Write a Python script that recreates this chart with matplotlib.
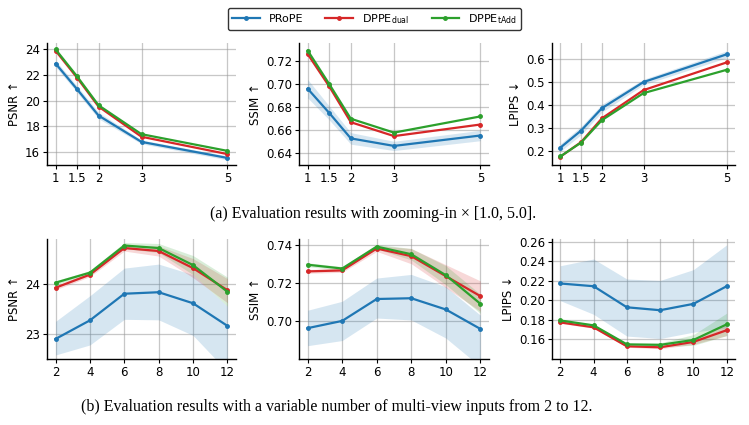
import numpy as np
import matplotlib
matplotlib.use("Agg")
import matplotlib.pyplot as plt

# ---------------- data ----------------
zoom_x = [1, 1.5, 2, 3, 5]
zoom_ticklabels = ["1", "1.5", "2", "3", "5"]
views_x = [2, 4, 6, 8, 10, 12]

series_names = ["PRoPE", "DPPE$_{\\mathrm{dual}}$", "DPPE$_{\\mathrm{tAdd}}$"]
colors = ["#1f77b4", "#d62728", "#2ca02c"]

# (a) zooming-in
psnr_zoom_prope = [22.9, 20.9, 18.85, 16.8, 15.55]
psnr_zoom_dual = [23.9, 21.8, 19.55, 17.2, 15.85]
psnr_zoom_tadd = [24.0, 21.9, 19.65, 17.4, 16.1]
psnr_zoom_prope_lo = [22.65, 20.65, 18.6, 16.65, 15.4]
psnr_zoom_prope_hi = [23.15, 21.15, 19.1, 16.95, 15.7]

ssim_zoom_prope = [0.696, 0.675, 0.653, 0.6465, 0.6555]
ssim_zoom_dual = [0.726, 0.698, 0.667, 0.655, 0.665]
ssim_zoom_tadd = [0.729, 0.700, 0.670, 0.658, 0.672]
ssim_zoom_prope_lo = [0.688, 0.669, 0.648, 0.6425, 0.651]
ssim_zoom_prope_hi = [0.704, 0.681, 0.658, 0.6505, 0.660]

lpips_zoom_prope = [0.216, 0.290, 0.387, 0.500, 0.620]
lpips_zoom_dual = [0.177, 0.240, 0.343, 0.465, 0.585]
lpips_zoom_tadd = [0.178, 0.238, 0.335, 0.452, 0.553]
lpips_zoom_prope_lo = [0.200, 0.272, 0.370, 0.488, 0.605]
lpips_zoom_prope_hi = [0.232, 0.308, 0.404, 0.512, 0.635]

# (b) number of views
psnr_views_prope = [22.90, 23.27, 23.80, 23.83, 23.61, 23.16]
psnr_views_dual = [23.92, 24.18, 24.71, 24.65, 24.31, 23.87]
psnr_views_tadd = [24.02, 24.22, 24.76, 24.71, 24.37, 23.84]
psnr_views_prope_lo = [22.58, 22.78, 23.29, 23.28, 22.97, 22.25]
psnr_views_prope_hi = [23.25, 23.76, 24.31, 24.39, 24.18, 23.55]
psnr_views_dual_lo = [23.88, 24.14, 24.65, 24.55, 24.12, 23.62]
psnr_views_dual_hi = [23.96, 24.22, 24.77, 24.75, 24.50, 24.10]
psnr_views_tadd_lo = [23.98, 24.18, 24.70, 24.62, 24.18, 23.55]
psnr_views_tadd_hi = [24.06, 24.26, 24.82, 24.80, 24.56, 24.13]

ssim_views_prope = [0.6962, 0.7000, 0.7115, 0.7119, 0.7060, 0.6958]
ssim_views_dual = [0.7260, 0.7265, 0.7380, 0.7340, 0.7235, 0.7130]
ssim_views_tadd = [0.7295, 0.7275, 0.7390, 0.7350, 0.7240, 0.7090]
ssim_views_prope_lo = [0.6870, 0.6897, 0.7015, 0.7005, 0.6910, 0.6760]
ssim_views_prope_hi = [0.7056, 0.7103, 0.7225, 0.7244, 0.7179, 0.7030]
ssim_views_dual_lo = [0.7250, 0.7255, 0.7365, 0.7300, 0.7175, 0.7050]
ssim_views_dual_hi = [0.7270, 0.7275, 0.7395, 0.7380, 0.7295, 0.7210]
ssim_views_tadd_lo = [0.7285, 0.7265, 0.7378, 0.7320, 0.7190, 0.7040]
ssim_views_tadd_hi = [0.7305, 0.7285, 0.7402, 0.7380, 0.7290, 0.7140]

lpips_views_prope = [0.2174, 0.2146, 0.1930, 0.1900, 0.1965, 0.2146]
lpips_views_dual = [0.1775, 0.1725, 0.1530, 0.1520, 0.1575, 0.1695]
lpips_views_tadd = [0.1795, 0.1745, 0.1550, 0.1545, 0.1595, 0.1755]
lpips_views_prope_lo = [0.1998, 0.1858, 0.1635, 0.1610, 0.1675, 0.1720]
lpips_views_prope_hi = [0.2356, 0.2425, 0.2220, 0.2205, 0.2316, 0.2570]
lpips_views_dual_lo = [0.1765, 0.1715, 0.1520, 0.1505, 0.1550, 0.1640]
lpips_views_dual_hi = [0.1785, 0.1735, 0.1540, 0.1535, 0.1600, 0.1750]
lpips_views_tadd_lo = [0.1785, 0.1735, 0.1540, 0.1525, 0.1540, 0.1640]
lpips_views_tadd_hi = [0.1805, 0.1755, 0.1560, 0.1565, 0.1650, 0.1870]

# ---------------- figure ----------------
W, H = 749, 425
fig = plt.figure(figsize=(W / 100, H / 100), dpi=100)

def px_axes(left, right, top, bottom):
    return fig.add_axes([left / W, 1 - bottom / H, (right - left) / W, (bottom - top) / H])

def style(ax):
    ax.spines["top"].set_visible(False)
    ax.spines["right"].set_visible(False)
    ax.grid(True, color="#999999", alpha=0.55, linewidth=0.9)
    ax.set_axisbelow(True)
    ax.tick_params(labelsize=8.5, length=3, width=0.8, pad=2)
    for s in ("left", "bottom"):
        ax.spines[s].set_linewidth(1.0)

def plot_panel(ax, x, ys, bands, ylabel, ylim, yticks, yticklabels=None):
    for y, c, name, band in zip(ys, colors, series_names, bands):
        if band is not None:
            ax.fill_between(x, band[0], band[1], color=c, alpha=0.18, linewidth=0)
        ax.plot(x, y, color=c, marker="o", markersize=2.5, linewidth=1.6, label=name)
    ax.set_ylabel(ylabel, fontsize=8.5, labelpad=3)
    ax.set_ylim(*ylim)
    ax.set_yticks(yticks)
    if yticklabels is not None:
        ax.set_yticklabels(yticklabels)
    style(ax)

top_t, top_b = 43, 165
bot_t, bot_b = 239, 359
cols = [(47, 236), (299, 489), (552, 735)]

ax1 = px_axes(cols[0][0], cols[0][1], top_t, top_b)
plot_panel(ax1, zoom_x, [psnr_zoom_prope, psnr_zoom_dual, psnr_zoom_tadd],
           [(psnr_zoom_prope_lo, psnr_zoom_prope_hi), None, None],
           "PSNR ↑", (15.0, 24.5), [16, 18, 20, 22, 24])
ax2 = px_axes(cols[1][0], cols[1][1], top_t, top_b)
plot_panel(ax2, zoom_x, [ssim_zoom_prope, ssim_zoom_dual, ssim_zoom_tadd],
           [(ssim_zoom_prope_lo, ssim_zoom_prope_hi), None, None],
           "SSIM ↑", (0.630, 0.7355), [0.64, 0.66, 0.68, 0.70, 0.72],
           ["0.64", "0.66", "0.68", "0.70", "0.72"])
ax3 = px_axes(cols[2][0], cols[2][1], top_t, top_b)
plot_panel(ax3, zoom_x, [lpips_zoom_prope, lpips_zoom_dual, lpips_zoom_tadd],
           [(lpips_zoom_prope_lo, lpips_zoom_prope_hi), None, None],
           "LPIPS ↓", (0.141, 0.669), [0.2, 0.3, 0.4, 0.5, 0.6],
           ["0.2", "0.3", "0.4", "0.5", "0.6"])
for ax in (ax1, ax2, ax3):
    ax.set_xticks(zoom_x)
    ax.set_xticklabels(zoom_ticklabels)
    ax.set_xlim(0.8, 5.2)

ax4 = px_axes(cols[0][0], cols[0][1], bot_t, bot_b)
plot_panel(ax4, views_x, [psnr_views_prope, psnr_views_dual, psnr_views_tadd],
           [(psnr_views_prope_lo, psnr_views_prope_hi),
            (psnr_views_dual_lo, psnr_views_dual_hi),
            (psnr_views_tadd_lo, psnr_views_tadd_hi)],
           "PSNR ↑", (22.5, 24.89), [23, 24])
ax5 = px_axes(cols[1][0], cols[1][1], bot_t, bot_b)
plot_panel(ax5, views_x, [ssim_views_prope, ssim_views_dual, ssim_views_tadd],
           [(ssim_views_prope_lo, ssim_views_prope_hi),
            (ssim_views_dual_lo, ssim_views_dual_hi),
            (ssim_views_tadd_lo, ssim_views_tadd_hi)],
           "SSIM ↑", (0.680, 0.743), [0.70, 0.72, 0.74], ["0.70", "0.72", "0.74"])
ax6 = px_axes(cols[2][0], cols[2][1], bot_t, bot_b)
plot_panel(ax6, views_x, [lpips_views_prope, lpips_views_dual, lpips_views_tadd],
           [(lpips_views_prope_lo, lpips_views_prope_hi),
            (lpips_views_dual_lo, lpips_views_dual_hi),
            (lpips_views_tadd_lo, lpips_views_tadd_hi)],
           "LPIPS ↓", (0.14, 0.263), [0.16, 0.18, 0.20, 0.22, 0.24, 0.26],
           ["0.16", "0.18", "0.20", "0.22", "0.24", "0.26"])
for ax in (ax4, ax5, ax6):
    ax.set_xticks(views_x)
    ax.set_xlim(1.5, 12.5)

handles, labels = ax1.get_legend_handles_labels()
leg = fig.legend(handles, labels, loc="upper center", bbox_to_anchor=(0.5, 0.995),
                 ncol=3, fontsize=8, frameon=True, edgecolor="black",
                 handlelength=2.5, columnspacing=2.0, borderpad=0.4)
leg.get_frame().set_linewidth(1.0)

fig.text(373 / W, 1 - 214 / H, "(a) Evaluation results with zooming-in × [1.0, 5.0].",
         ha="center", va="center", fontsize=11.5, family="Liberation Serif")
fig.text(337 / W, 1 - 407 / H,
         "(b) Evaluation results with a variable number of multi-view inputs from 2 to 12.",
         ha="center", va="center", fontsize=11.5, family="Liberation Serif")

fig.savefig("out.png", dpi=100)
